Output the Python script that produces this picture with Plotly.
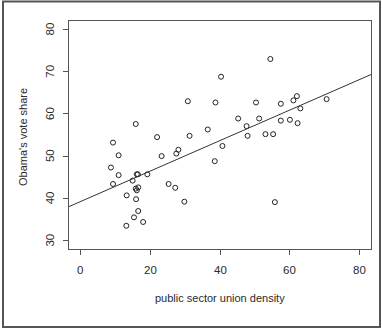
import plotly.graph_objects as go

union_density = [8.8, 9.4, 9.4, 11.0, 11.0, 13.3, 13.2, 15.0, 15.4, 15.9, 16.0, 16.2, 16.5,
                 15.9, 16.2, 16.6, 16.6, 18.0, 19.2, 22.0, 23.3, 25.3, 27.2, 27.5, 28.1,
                 29.8, 30.8, 31.3, 36.5, 38.5, 38.7, 40.3, 40.7, 45.2, 47.6, 47.9, 50.3,
                 51.2, 53.0, 54.4, 55.2, 55.7, 57.4, 57.4, 60.0, 61.0, 62.0, 62.2, 63.0, 70.5]
obama_share = [47.3, 53.2, 43.4, 50.2, 45.5, 40.7, 33.5, 44.2, 35.5, 57.6, 39.8, 45.7, 45.7,
               42.3, 41.9, 42.6, 37.0, 34.4, 45.7, 54.5, 50.0, 43.4, 42.5, 50.6, 51.5,
               39.2, 63.0, 54.8, 56.3, 48.8, 62.7, 68.8, 52.4, 58.9, 57.1, 54.8, 62.7,
               58.9, 55.2, 73.0, 55.2, 39.1, 62.4, 58.4, 58.6, 63.2, 64.2, 57.8, 61.3, 63.5]

fit_intercept = 39.2
fit_slope = 0.362
x_ticks = [0, 20, 40, 60, 80]
y_ticks = [30, 40, 50, 60, 70, 80]
x_range = [-3.2, 83.2]
y_range = [28, 82]
x_title = "public sector union density"
y_title = "Obama's vote share"

font_family = "Liberation Sans, Arial, sans-serif"
text_color = "#2a2a2a"
PL, PR, PT, PB = 69, 371, 21, 249
PW, PH = PR - PL, PB - PT

def px_x(p):
    return (p - PL) / PW

def px_y(p):
    return (PB - p) / PH

fig = go.Figure()
fig.add_trace(go.Scatter(
    x=union_density, y=obama_share, mode="markers",
    marker=dict(symbol="circle-open", size=5, color="#222222", line=dict(width=1)),
    hoverinfo="x+y", showlegend=False))
fig.add_trace(go.Scatter(
    x=x_range, y=[fit_intercept + fit_slope * v for v in x_range], mode="lines",
    line=dict(color="#333333", width=1), showlegend=False, hoverinfo="skip"))

annotations = []
for t in y_ticks:
    annotations.append(dict(text=str(t), xref="paper", yref="y", x=px_x(50), y=t,
                            xanchor="center", yanchor="middle", textangle=-90,
                            showarrow=False, font=dict(size=11.5, color=text_color)))
for t in x_ticks:
    annotations.append(dict(text=str(t), xref="x", yref="paper", x=t, y=px_y(270),
                            xanchor="center", yanchor="middle",
                            showarrow=False, font=dict(size=11.5, color=text_color)))
annotations.append(dict(text=x_title, xref="paper", yref="paper", x=0.5, y=px_y(298),
                        xanchor="center", yanchor="middle", showarrow=False,
                        font=dict(size=11, color=text_color)))
annotations.append(dict(text=y_title, xref="paper", yref="paper", x=px_x(23), y=px_y(137),
                        xanchor="center", yanchor="middle", textangle=-90, showarrow=False,
                        font=dict(size=11, color=text_color)))

fig.update_layout(
    width=382, height=329,
    margin=dict(l=PL, r=382 - PR, t=PT, b=329 - PB),
    paper_bgcolor="white", plot_bgcolor="white",
    font=dict(family=font_family, size=11, color=text_color),
    xaxis=dict(range=x_range, tickvals=x_ticks, showticklabels=False, showgrid=False,
               zeroline=False, showline=True, linecolor="#555555", linewidth=1, mirror=True,
               ticks="outside", ticklen=5, tickcolor="#555555"),
    yaxis=dict(range=y_range, tickvals=y_ticks, showticklabels=False, showgrid=False,
               zeroline=False, showline=True, linecolor="#555555", linewidth=1, mirror=True,
               ticks="outside", ticklen=5, tickcolor="#555555"),
    annotations=annotations,
    shapes=[dict(type="rect", xref="paper", yref="paper",
                 x0=px_x(3), x1=px_x(380),
                 y0=px_y(327), y1=px_y(1.5),
                 line=dict(color="#555555", width=2), fillcolor="rgba(0,0,0,0)", layer="below")],
)

fig.write_html("out.html")
